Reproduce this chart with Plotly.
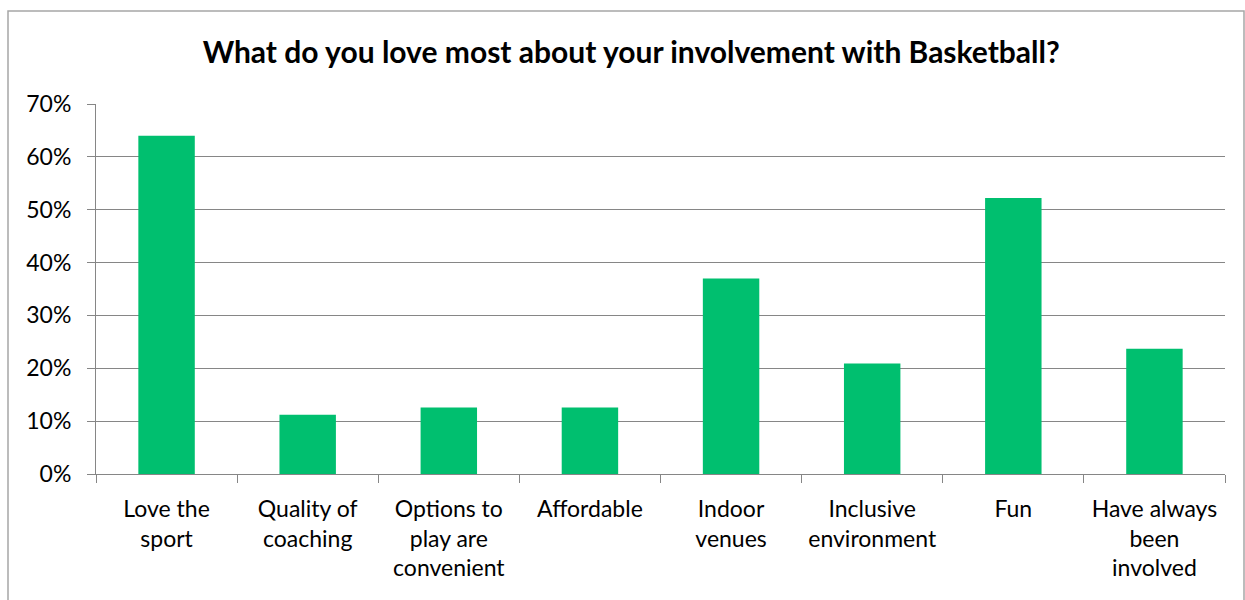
import plotly.graph_objects as go

categories = ["Love the<br>sport", "Quality of<br>coaching", "Options to<br>play are<br>convenient",
              "Affordable", "Indoor<br>venues", "Inclusive<br>environment", "Fun",
              "Have always<br>been<br>involved"]
values = [0.64, 0.112, 0.126, 0.126, 0.37, 0.209, 0.522, 0.237]
y_ticks = [0, 0.1, 0.2, 0.3, 0.4, 0.5, 0.6, 0.7]

W, H = 1245, 600
L, R, T, B = 96, 20, 104, 126
pw, ph = W - L - R, H - T - B

fig = go.Figure(go.Bar(x=categories, y=values, marker_color="#00BF6F", width=0.4,
                       marker_line_width=0))

def px_x(p):
    return (p - L) / pw

def px_y(p):
    return (H - B - p) / ph

fig.update_layout(
    width=W, height=H,
    margin=dict(l=L, r=R, t=T, b=B),
    paper_bgcolor="white", plot_bgcolor="white",
    font=dict(family="Lato, Open Sans, sans-serif", size=23, color="black"),
    title=dict(text="<b>What do you love most about your involvement with Basketball?</b>",
               x=0.507, xanchor="center", y=0.913, yanchor="middle",
               font=dict(size=30, family="Lato, Open Sans, sans-serif")),
    showlegend=False,
    bargap=0.6,
    shapes=[dict(type="rect", xref="paper", yref="paper",
                 x0=px_x(8), x1=px_x(1244), y0=px_y(640), y1=px_y(11),
                 line=dict(color="#A6A6A6", width=1.5), layer="below")],
)
fig.update_xaxes(showline=True, linecolor="#868686", linewidth=1,
                 ticks="outside", tickson="boundaries", ticklen=8, tickcolor="#868686",
                 showgrid=False, tickfont=dict(size=23), tickangle=0, automargin=False,
                 ticklabelstandoff=14)
fig.update_yaxes(range=[0, 0.7], tickvals=y_ticks, tickformat=".0%",
                 showgrid=True, gridcolor="#868686", gridwidth=1,
                 showline=True, linecolor="#868686", linewidth=1,
                 ticks="outside", ticklen=8, tickcolor="#868686",
                 tickfont=dict(size=23), zeroline=False, automargin=False,
                 ticklabelstandoff=11)

fig.write_html("out.html", config={"displayModeBar": False},
               post_script="document.body.style.margin='0';")
